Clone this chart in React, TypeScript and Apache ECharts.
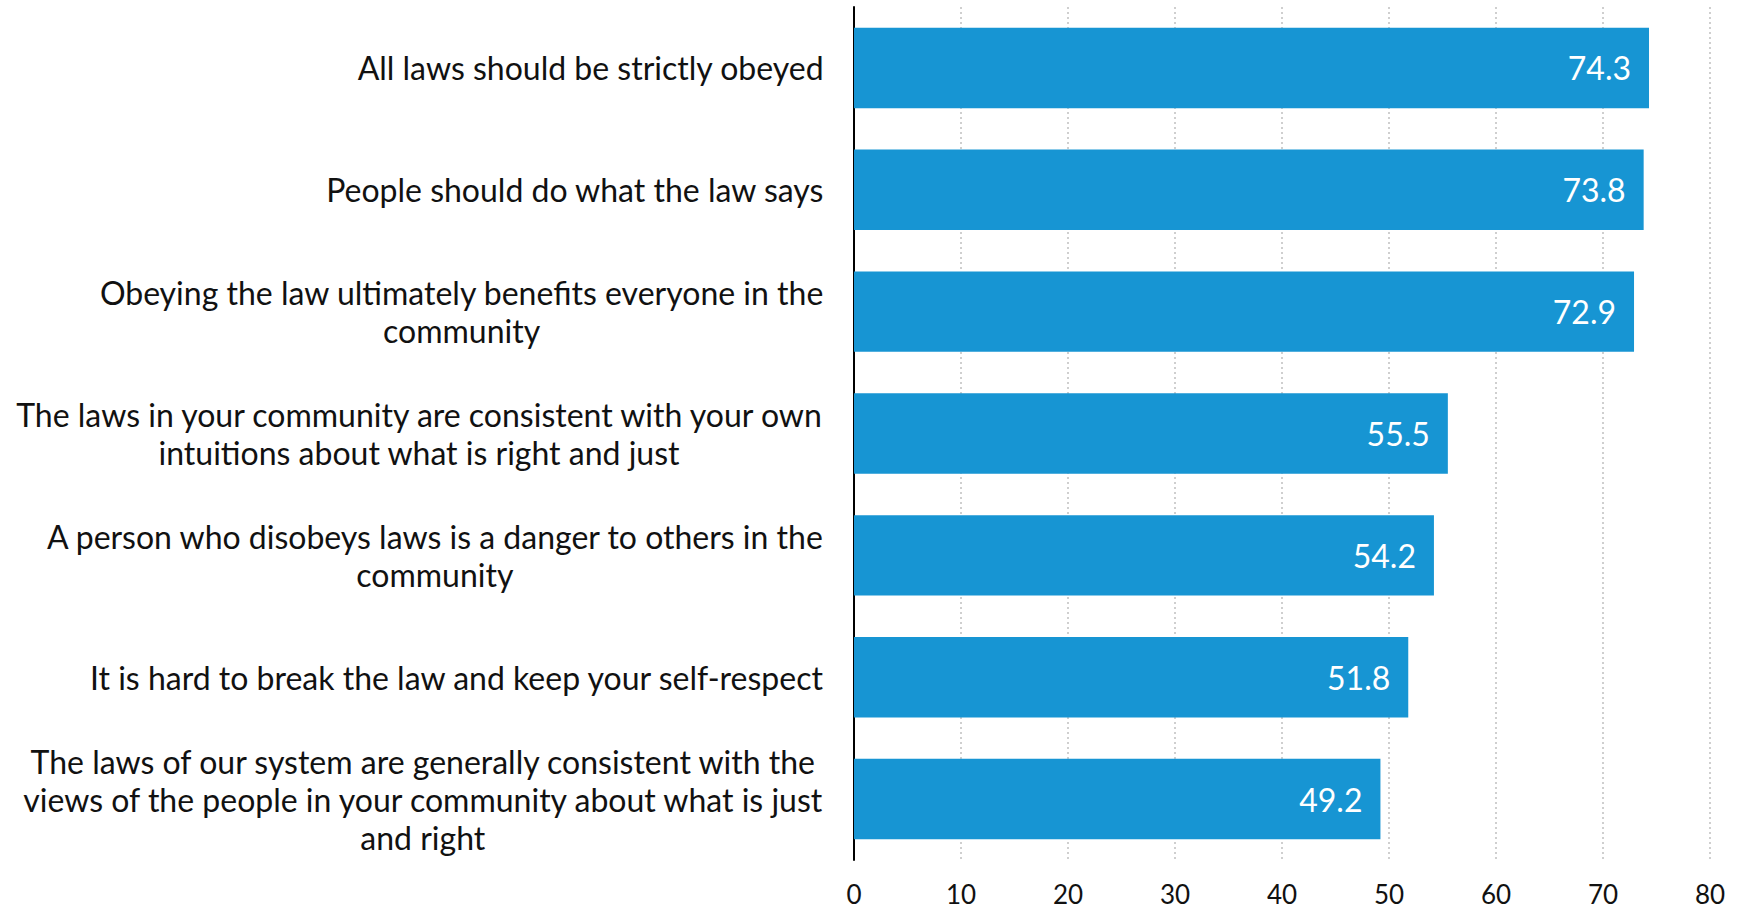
import React, { useEffect, useRef } from "react";
import * as echarts from "echarts";

const categories: string[] = [
  "All laws should be strictly obeyed",
  "People should do what the law says",
  "Obeying the law ultimately benefits everyone in the community",
  "The laws in your community are consistent with your own intuitions about what is right and just",
  "A person who disobeys laws is a danger to others in the community",
  "It is hard to break the law and keep your self-respect",
  "The laws of our system are generally consistent with the views of the people in your community about what is just and right",
];

const values: number[] = [74.3, 73.8, 72.9, 55.5, 54.2, 51.8, 49.2];

const xTicks: number[] = [0, 10, 20, 30, 40, 50, 60, 70, 80];

const FONT = "Lato, 'Open Sans', sans-serif";
const LABEL_SIZE = 32;
const WRAP_WIDTH = 835;

function wrapText(text: string, font: string, maxWidth: number): string[] {
  const canvas = document.createElement("canvas");
  const ctx = canvas.getContext("2d");
  if (!ctx) return [text];
  ctx.font = font;
  const words = text.split(" ");
  const lines: string[] = [];
  let cur = "";
  for (const w of words) {
    const test = cur ? cur + " " + w : w;
    if (ctx.measureText(test).width > maxWidth && cur) {
      lines.push(cur);
      cur = w;
    } else {
      cur = test;
    }
  }
  if (cur) lines.push(cur);
  return lines;
}

export default function App() {
  const ref = useRef<HTMLDivElement>(null);

  useEffect(() => {
    document.body.style.margin = "0";
    if (!ref.current) return;
    const chart = echarts.init(ref.current, undefined, { renderer: "svg" });

    const fontStr = `${LABEL_SIZE}px Lato`;

    chart.setOption({
      animation: false,
      backgroundColor: "#ffffff",
      grid: { left: 854, right: 29, top: 7, bottom: 49, containLabel: false },
      xAxis: {
        type: "value",
        min: 0,
        max: xTicks[xTicks.length - 1],
        interval: xTicks[1] - xTicks[0],
        axisLine: { show: false },
        axisTick: { show: false },
        axisLabel: {
          color: "#111",
          fontFamily: FONT,
          fontSize: 26,
          margin: 21,
        },
        splitLine: {
          show: true,
          lineStyle: { color: "#cfcfcf", width: 2, type: [2, 3] },
        },
      },
      yAxis: {
        type: "category",
        inverse: true,
        data: categories,
        axisLine: { show: true, lineStyle: { color: "#000", width: 2 } },
        axisTick: { show: false },
        axisLabel: {
          margin: 30,
          align: "right",
          formatter: (v: string) =>
            wrapText(v, fontStr, WRAP_WIDTH)
              .map((l) => `{c|${l}}`)
              .join("\n"),
          rich: {
            c: {
              align: "center",
              fontFamily: FONT,
              fontSize: LABEL_SIZE,
              lineHeight: 38,
              color: "#111",
            },
          },
        },
      },
      series: [
        {
          type: "bar",
          data: values,
          barCategoryGap: "34%",
          itemStyle: { color: "#1795d3" },
          label: {
            show: true,
            position: "insideRight",
            distance: 18,
            color: "#ffffff",
            fontFamily: FONT,
            fontSize: LABEL_SIZE,
            formatter: (p: any) => p.value.toFixed(1),
          },
        },
      ],
    });

    return () => chart.dispose();
  }, []);

  return (
    <div
      ref={ref}
      style={{ position: "fixed", left: 0, top: 0, width: 1739, height: 909 }}
    />
  );
}
